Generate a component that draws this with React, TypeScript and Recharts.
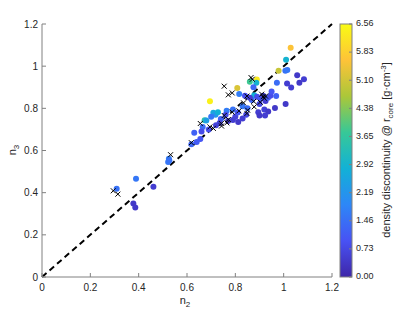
import React from "react"
import { ScatterChart, Scatter, XAxis, YAxis, ReferenceLine } from "recharts"

// coloured points: n2, n3 and density discontinuity at r_core
const dotN2 = [
  0.309, 0.389, 0.378, 0.386, 0.461, 0.522, 0.525, 0.527,
  0.630, 0.655, 0.665, 0.660, 0.673, 0.680, 0.695, 0.709, 0.718, 0.728, 0.700, 0.690,
  0.720, 0.740, 0.764, 0.790, 0.770, 0.790, 0.800, 0.812, 0.830, 0.845, 0.810,
  0.808, 0.816, 0.860, 0.889, 0.887, 0.878, 0.868, 0.890, 0.905, 0.915, 0.925, 0.935,
  0.900, 0.895, 0.920, 0.936, 0.923, 0.900, 0.964, 1.008, 0.969, 0.972, 1.014, 1.031,
  1.056, 1.084, 1.065, 0.979, 1.007, 1.015, 1.010, 1.029, 0.850, 0.860, 0.840, 0.760,
  0.735, 0.875, 0.945, 0.830, 0.950, 0.618, 0.640,
]
const dotN3 = [
  0.418, 0.466, 0.349, 0.330, 0.428, 0.545, 0.561, 0.553,
  0.684, 0.655, 0.712, 0.690, 0.744, 0.742, 0.834, 0.779, 0.770, 0.782, 0.760, 0.700,
  0.720, 0.750, 0.788, 0.795, 0.740, 0.745, 0.760, 0.735, 0.752, 0.770, 0.780,
  0.896, 0.868, 0.926, 0.937, 0.921, 0.862, 0.840, 0.855, 0.845, 0.860, 0.835, 0.850,
  0.820, 0.782, 0.795, 0.785, 0.766, 0.766, 0.801, 0.820, 0.858, 0.921, 0.918, 0.899,
  0.957, 0.938, 0.921, 0.978, 0.978, 0.982, 1.030, 1.087, 0.800, 0.850, 0.860, 0.770,
  0.730, 0.900, 0.860, 0.810, 0.880, 0.630, 0.640,
]
const dotDensity = [
  1.5, 1.6, 0.4, 0.4, 0.5, 1.6, 1.7, 1.5,
  1.2, 1.0, 1.4, 0.8, 3.5, 2.4, 6.4, 2.6, 2.2, 2.8, 1.6, 0.9,
  0.6, 1.2, 1.7, 1.5, 0.4, 0.5, 0.6, 0.4, 0.5, 0.7, 1.0,
  5.2, 1.7, 3.8, 6.3, 2.9, 2.8, 1.3, 0.8, 1.0, 0.6, 0.5, 1.1,
  0.7, 0.5, 0.6, 0.4, 0.5, 0.4, 0.4, 0.4, 1.2, 1.4, 0.5, 0.5,
  0.4, 0.5, 0.4, 5.0, 1.5, 1.6, 2.9, 5.6, 1.4, 0.5, 0.9, 0.8,
  0.6, 1.3, 0.8, 1.6, 1.0, 1.3, 1.1,
]

// black crosses
const crossN2 = [
  0.295, 0.314, 0.532, 0.618, 0.709, 0.695, 0.742, 0.743, 0.765, 0.771, 0.754, 0.787,
  0.815, 0.848, 0.851, 0.878, 0.834, 0.876, 0.903, 0.920, 0.915, 0.925, 0.909, 0.848,
  0.787, 0.771, 0.754, 0.865, 0.870, 0.655,
]
const crossN3 = [
  0.409, 0.393, 0.580, 0.637, 0.705, 0.712, 0.728, 0.716, 0.731, 0.747, 0.766, 0.782,
  0.788, 0.776, 0.791, 0.807, 0.826, 0.833, 0.829, 0.848, 0.855, 0.858, 0.867, 0.858,
  0.873, 0.864, 0.905, 0.946, 0.938, 0.728,
]

const axisTicks = [0, 0.2, 0.4, 0.6, 0.8, 1, 1.2]
const cbarTicks = ["0.00", "0.73", "1.46", "2.19", "2.92", "3.65", "4.38", "5.10", "5.83", "6.56"]
const cbarMax = 6.56

const parulaStops = ["#3e26a8", "#4852f4", "#2d87f7", "#12b1d6", "#37c897", "#abc739", "#fec338", "#f9fb14"]

function parula(t: number): string {
  const v = Math.max(0, Math.min(1, t)) * (parulaStops.length - 1)
  const i = Math.min(Math.floor(v), parulaStops.length - 2)
  const f = v - i
  const a = parseInt(parulaStops[i].slice(1), 16)
  const b = parseInt(parulaStops[i + 1].slice(1), 16)
  const mix = (s: number) => Math.round(((a >> s) & 255) * (1 - f) + ((b >> s) & 255) * f)
  return `rgb(${mix(16)},${mix(8)},${mix(0)})`
}

const dots = dotN2.map((x, i) => ({ x, y: dotN3[i], c: dotDensity[i] }))
const crosses = crossN2.map((x, i) => ({ x, y: crossN3[i] }))

const font = "'Liberation Sans', Arial, sans-serif"
const axisColor = "#808080"
const textColor = "#262626"

const Dot = (p: any) => <circle cx={p.cx} cy={p.cy} r={3} fill={parula(p.payload.c / cbarMax)} />
const Cross = (p: any) => (
  <path
    d={`M${p.cx - 2.5},${p.cy - 2.5}L${p.cx + 2.5},${p.cy + 2.5}M${p.cx - 2.5},${p.cy + 2.5}L${p.cx + 2.5},${p.cy - 2.5}`}
    stroke="#000"
    strokeWidth={1}
  />
)

// colorbar geometry (page pixels)
const cbX = 340, cbY = 24, cbW = 12, cbH = 253

export default function App() {
  const tickStyle = { fontSize: 10, fill: textColor, fontFamily: font }
  return (
    <div style={{ position: "absolute", left: 0, top: 0, width: 415, height: 312, background: "#fff" }}>
      <ScatterChart width={415} height={312} margin={{ top: 24, right: 83, bottom: 15, left: 12 }}>
        <XAxis type="number" dataKey="x" domain={[0, 1.2]} ticks={axisTicks} height={20}
          tickSize={-4} tickMargin={11} tick={tickStyle} stroke={axisColor} tickFormatter={(v) => String(v)} />
        <YAxis type="number" dataKey="y" domain={[0, 1.2]} ticks={axisTicks} width={30}
          tickSize={-4} tickMargin={8} tick={tickStyle} stroke={axisColor} tickFormatter={(v) => String(v)} />
        <XAxis xAxisId="top" orientation="top" type="number" domain={[0, 1.2]} ticks={axisTicks} height={0}
          tickSize={-4} tick={false} stroke={axisColor} />
        <YAxis yAxisId="right" orientation="right" type="number" domain={[0, 1.2]} ticks={axisTicks} width={0}
          tickSize={-4} tick={false} stroke={axisColor} />
        <Scatter data={dots} shape={Dot} isAnimationActive={false} />
        <Scatter data={crosses} shape={Cross} isAnimationActive={false} />
        <ReferenceLine segment={[{ x: 0, y: 0 }, { x: 1.2, y: 1.2 }]} stroke="#000"
          strokeWidth={2} strokeDasharray="6 4" />
      </ScatterChart>
      <svg width={415} height={312} style={{ position: "absolute", left: 0, top: 0, pointerEvents: "none" }}
        fontFamily={font}>
        <defs>
          <linearGradient id="parula" x1="0" y1="1" x2="0" y2="0">
            {parulaStops.map((c, i) => (
              <stop key={i} offset={i / (parulaStops.length - 1)} stopColor={c} />
            ))}
          </linearGradient>
        </defs>
        <rect x={cbX} y={cbY} width={cbW} height={cbH} fill="url(#parula)" stroke={axisColor} strokeWidth={1} />
        {cbarTicks.map((t, i) => {
          const y = cbY + cbH - (i * cbH) / (cbarTicks.length - 1)
          return (
            <g key={t}>
              <line x1={cbX + cbW - 3} x2={cbX + cbW} y1={y} y2={y} stroke={axisColor} />
              <text x={cbX + cbW + 4} y={y} fontSize={9} fill={textColor} dominantBaseline="middle">{t}</text>
            </g>
          )
        })}
        <text transform="translate(390,150) rotate(-90)" textAnchor="middle" fontSize={11} fill={textColor}>
          density discontinuity @ r<tspan dy={3} fontSize={8}>core</tspan>
          <tspan dy={-3}> [g·cm</tspan><tspan dy={-4} fontSize={8}>-3</tspan><tspan dy={4}>]</tspan>
        </text>
        <text x={185} y={304} textAnchor="middle" fontSize={11} fill={textColor}>
          n<tspan dy={3} fontSize={8}>2</tspan>
        </text>
        <text transform="translate(16,150) rotate(-90)" textAnchor="middle" fontSize={11} fill={textColor}>
          n<tspan dy={3} fontSize={8}>3</tspan>
        </text>
      </svg>
    </div>
  )
}
